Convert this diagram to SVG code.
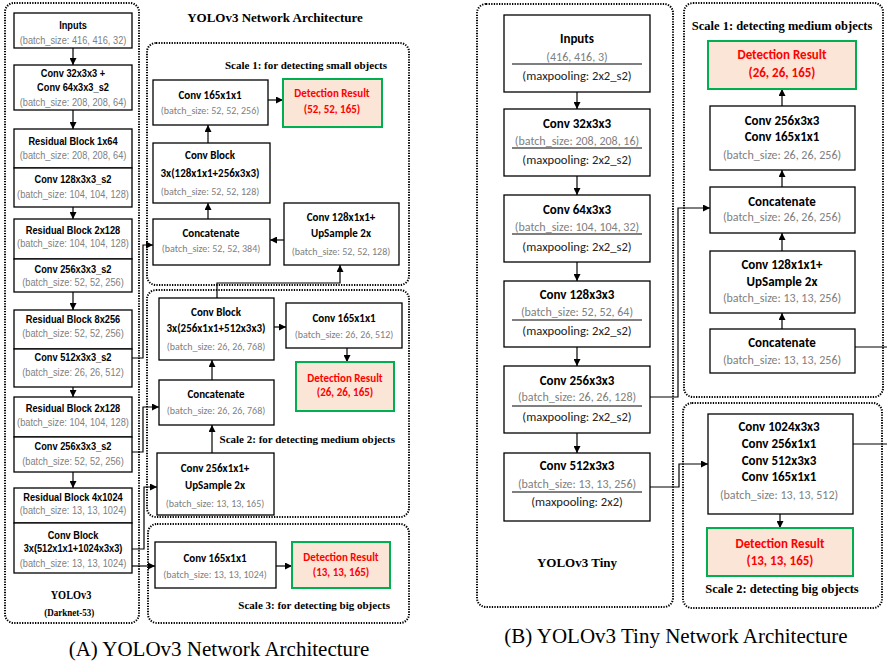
<svg xmlns="http://www.w3.org/2000/svg" width="887" height="663" viewBox="0 0 887 663">
<defs>
<marker id="ah" viewBox="0 0 8 8" refX="8" refY="4" markerWidth="7" markerHeight="7" orient="auto" markerUnits="userSpaceOnUse"><path d="M0,0 L8,4 L0,8 z" fill="#000"/></marker>
<style>
.box{fill:#fff;stroke:#000;stroke-width:1.3}
.det{fill:#fbe5d6;stroke:#00b050;stroke-width:2}
.dot{fill:none;stroke:#000;stroke-width:2;stroke-dasharray:1.3 1.3}
.cn{fill:none;stroke:#000;stroke-width:1.2;marker-end:url(#ah)}
.ln{fill:none;stroke:#000;stroke-width:1.2}
.nb{font-family:"Liberation Sans",Arial,sans-serif;font-size:11px;font-weight:bold;fill:#000;text-anchor:middle}
.ng{font-family:"Liberation Sans",Arial,sans-serif;font-size:11px;fill:#808080;text-anchor:middle}
.cb{font-family:Carlito,Lato,sans-serif;font-size:11px;font-weight:bold;fill:#000;text-anchor:middle}
.cg{font-family:Carlito,Lato,sans-serif;font-size:10px;fill:#808080;text-anchor:middle}
.cr{font-family:Carlito,Lato,sans-serif;font-size:11px;font-weight:bold;fill:#ff0000;text-anchor:middle}
.tb{font-family:Carlito,Lato,sans-serif;font-size:13px;font-weight:bold;fill:#000;text-anchor:middle}
.tg{font-family:Carlito,Lato,sans-serif;font-size:12px;fill:#808080;text-anchor:middle}
.tm{font-family:Carlito,Lato,sans-serif;font-size:12.6px;fill:#222;text-anchor:middle}
.tr{font-family:Carlito,Lato,sans-serif;font-size:13px;font-weight:bold;fill:#ff0000;text-anchor:middle}
.sb{font-family:"Liberation Serif",serif;font-weight:bold;fill:#000}
.cap{font-family:"Liberation Serif",serif;font-size:21px;fill:#000;text-anchor:middle}
</style>
</defs>
<rect width="887" height="663" fill="#fff"/>

<!-- Panel frames -->
<g id="frames">
<rect class="dot" x="5" y="3" width="134" height="620" rx="9"/>
<rect class="dot" x="147" y="43" width="262" height="242" rx="9"/>
<rect class="dot" x="147" y="290" width="262" height="227" rx="9"/>
<rect class="dot" x="148" y="524" width="261" height="99" rx="9"/>
<rect class="dot" x="477" y="4" width="196" height="603" rx="9"/>
<rect class="dot" x="684" y="3" width="199" height="394" rx="9"/>
<rect class="dot" x="683" y="403" width="199" height="205" rx="9"/>
</g>

<g id="labels">
<text class="sb" x="275" y="22" font-size="13" text-anchor="middle">YOLOv3 Network Architecture</text>
<text class="sb" x="387" y="69" font-size="11" text-anchor="end">Scale 1: for detecting small objects</text>
<text class="sb" x="395" y="443" font-size="11" text-anchor="end">Scale 2: for detecting medium objects</text>
<text class="sb" x="390" y="609" font-size="11" text-anchor="end">Scale 3: for detecting big objects</text>
<g transform="translate(71,0) scale(0.86,1)">
<text class="sb" x="0" y="599" font-size="12" text-anchor="middle">YOLOv3</text>
<text class="sb" x="-2" y="616" font-size="10.5" text-anchor="middle">(Darknet-53)</text>
</g>
<text class="sb" x="577" y="567" font-size="13" text-anchor="middle">YOLOv3 Tiny</text>
<text class="sb" x="782" y="30" font-size="12.5" text-anchor="middle">Scale 1: detecting medium objects</text>
<text class="sb" x="782" y="593" font-size="12.5" text-anchor="middle">Scale 2: detecting  big objects</text>
<text class="cap" x="219" y="656">(A) YOLOv3 Network Architecture</text>
<text class="cap" x="676" y="643" font-size="22">(B) YOLOv3 Tiny Network Architecture</text>
</g>

<!-- Connectors -->
<g id="connectors">
<path class="cn" d="M73,48 V65"/>
<path class="cn" d="M73,110 V129"/>
<path class="cn" d="M73,207 V219"/>
<path class="cn" d="M73,292 V310"/>
<path class="cn" d="M73,387 V397"/>
<path class="cn" d="M73,472 V488"/>
<path class="cn" d="M132,358 H143 V245 H153"/>
<path class="cn" d="M132,452 H143 V407 H159"/>
<path class="cn" d="M132,549 H144 V487 H157"/>
<path class="cn" d="M132,566 H155"/>
<path class="cn" d="M217,298 V283 H340 V265"/>
<path class="cn" d="M268,100 H283"/>
<path class="cn" d="M208,143 V125"/>
<path class="cn" d="M208,219 V203"/>
<path class="cn" d="M284,240 H270"/>
<path class="cn" d="M274,327 H286"/>
<path class="cn" d="M347,348 V362"/>
<path class="cn" d="M212,380 V360"/>
<path class="cn" d="M212,453 V425"/>
<path class="cn" d="M276,566 H292"/>
<path class="cn" d="M577,92 V109"/>
<path class="cn" d="M577,176 V195"/>
<path class="cn" d="M577,262 V281"/>
<path class="cn" d="M577,347 V366"/>
<path class="cn" d="M577,433 V453"/>
<path class="cn" d="M645,397 H678 V208 H710"/>
<path class="cn" d="M650,487 H679 V464 H708"/>
<path class="cn" d="M782,106 V89"/>
<path class="cn" d="M782,187 V170"/>
<path class="cn" d="M782,251 V233"/>
<path class="cn" d="M782,329 V313"/>
<path class="cn" d="M887,347 H819"/>
<path class="ln" d="M818,444 H887"/>
<path class="cn" d="M780,514 V528"/>
</g>

<!-- Backbone (A) -->
<g id="a-inputs"><rect class="box" x="14" y="13" width="118" height="35"/>
<g transform="translate(73,0) scale(0.84,1)"><text class="nb" x="0" y="29">Inputs</text><text class="ng" x="0" y="44">(batch_size: 416, 416, 32)</text></g></g>
<g id="a-conv32"><rect class="box" x="14" y="65" width="118" height="45"/>
<g transform="translate(73,0) scale(0.84,1)"><text class="nb" x="0" y="77">Conv 32x3x3 +</text><text class="nb" x="0" y="91">Conv 64x3x3_s2</text><text class="ng" x="0" y="106">(batch_size: 208, 208, 64)</text></g></g>
<g id="a-res1"><rect class="box" x="14" y="129" width="118" height="39"/>
<g transform="translate(73,0) scale(0.84,1)"><text class="nb" x="0" y="145">Residual Block 1x64</text><text class="ng" x="0" y="159">(batch_size: 208, 208, 64)</text></g></g>
<g id="a-conv128"><rect class="box" x="14" y="168" width="118" height="39"/>
<g transform="translate(73,0) scale(0.84,1)"><text class="nb" x="0" y="183">Conv 128x3x3_s2</text><text class="ng" x="0" y="198">(batch_size: 104, 104, 128)</text></g></g>
<g id="a-res2"><rect class="box" x="14" y="219" width="118" height="40"/>
<g transform="translate(73,0) scale(0.84,1)"><text class="nb" x="0" y="234">Residual Block 2x128</text><text class="ng" x="0" y="247">(batch_size: 104, 104, 128)</text></g></g>
<g id="a-conv256"><rect class="box" x="14" y="259" width="118" height="33"/>
<g transform="translate(73,0) scale(0.84,1)"><text class="nb" x="0" y="273">Conv 256x3x3_s2</text><text class="ng" x="0" y="286">(batch_size: 52, 52, 256)</text></g></g>
<g id="a-res8"><rect class="box" x="14" y="310" width="118" height="39"/>
<g transform="translate(73,0) scale(0.84,1)"><text class="nb" x="0" y="323">Residual Block 8x256</text><text class="ng" x="0" y="337">(batch_size: 52, 52, 256)</text></g></g>
<g id="a-conv512"><rect class="box" x="14" y="349" width="118" height="38"/>
<g transform="translate(73,0) scale(0.84,1)"><text class="nb" x="0" y="361">Conv 512x3x3_s2</text><text class="ng" x="0" y="376">(batch_size: 26, 26, 512)</text></g></g>
<g id="a-res2b"><rect class="box" x="14" y="397" width="118" height="40"/>
<g transform="translate(73,0) scale(0.84,1)"><text class="nb" x="0" y="412">Residual Block 2x128</text><text class="ng" x="0" y="426">(batch_size: 104, 104, 128)</text></g></g>
<g id="a-conv256b"><rect class="box" x="14" y="437" width="118" height="35"/>
<g transform="translate(73,0) scale(0.84,1)"><text class="nb" x="0" y="450">Conv 256x3x3_s2</text><text class="ng" x="0" y="465">(batch_size: 52, 52, 256)</text></g></g>
<g id="a-res4"><rect class="box" x="14" y="488" width="118" height="35"/>
<g transform="translate(73,0) scale(0.84,1)"><text class="nb" x="0" y="501">Residual Block 4x1024</text><text class="ng" x="0" y="514">(batch_size: 13, 13, 1024)</text></g></g>
<g id="a-convblock"><rect class="box" x="14" y="523" width="118" height="50"/>
<g transform="translate(73,0) scale(0.84,1)"><text class="nb" x="0" y="539">Conv Block</text><text class="nb" x="0" y="552">3x(512x1x1+1024x3x3)</text><text class="ng" x="0" y="567">(batch_size: 13, 13, 1024)</text></g></g>

<!-- Scale 1 (A) -->
<g id="s1-conv165"><rect class="box" x="153" y="80" width="115" height="45"/>
<text class="cb" x="210" y="99">Conv 165x1x1</text><text class="cg" x="210" y="114">(batch_size: 52, 52, 256)</text></g>
<g id="s1-det"><rect class="det" x="283" y="79" width="99" height="48"/>
<text class="cr" x="332" y="97">Detection Result</text><text class="cr" x="332" y="113">(52, 52, 165)</text></g>
<g id="s1-convblock"><rect class="box" x="153" y="143" width="117" height="60"/>
<text class="cb" x="210" y="159">Conv Block</text><text class="cb" x="210" y="177">3x(128x1x1+256x3x3)</text><text class="cg" x="210" y="195">(batch_size: 52, 52, 128)</text></g>
<g id="s1-concat"><rect class="box" x="153" y="219" width="117" height="46"/>
<text class="cb" x="211" y="237">Concatenate</text><text class="cg" x="211" y="252">(batch_size: 52, 52, 384)</text></g>
<g id="s1-up"><rect class="box" x="284" y="203" width="115" height="62"/>
<text class="cb" x="341" y="221">Conv 128x1x1+</text><text class="cb" x="341" y="237">UpSample 2x</text><text class="cg" x="341" y="255">(batch_size: 52, 52, 128)</text></g>

<!-- Scale 2 (A) -->
<g id="s2-convblock"><rect class="box" x="159" y="298" width="115" height="62"/>
<text class="cb" x="216" y="316">Conv Block</text><text class="cb" x="216" y="332">3x(256x1x1+512x3x3)</text><text class="cg" x="216" y="350">(batch_size: 26, 26, 768)</text></g>
<g id="s2-conv165"><rect class="box" x="286" y="303" width="116" height="45"/>
<text class="cb" x="344" y="322">Conv 165x1x1</text><text class="cg" x="344" y="338">(batch_size: 26, 26, 512)</text></g>
<g id="s2-det"><rect class="det" x="296" y="362" width="98" height="49"/>
<text class="cr" x="345" y="382">Detection Result</text><text class="cr" x="345" y="396">(26, 26, 165)</text></g>
<g id="s2-concat"><rect class="box" x="159" y="380" width="115" height="45"/>
<text class="cb" x="216" y="398">Concatenate</text><text class="cg" x="216" y="414">(batch_size: 26, 26, 768)</text></g>
<g id="s2-up"><rect class="box" x="157" y="453" width="117" height="62"/>
<text class="cb" x="215" y="472">Conv 256x1x1+</text><text class="cb" x="215" y="489">UpSample 2x</text><text class="cg" x="215" y="507">(batch_size: 13, 13, 165)</text></g>

<!-- Scale 3 (A) -->
<g id="s3-conv165"><rect class="box" x="155" y="542" width="121" height="46"/>
<text class="cb" x="215" y="562">Conv 165x1x1</text><text class="cg" x="215" y="578">(batch_size: 13, 13, 1024)</text></g>
<g id="s3-det"><rect class="det" x="292" y="542" width="98" height="46"/>
<text class="cr" x="341" y="561">Detection Result</text><text class="cr" x="341" y="576">(13, 13, 165)</text></g>

<!-- Tiny backbone (B) -->
<g id="b-inputs"><rect class="box" x="504" y="15" width="146" height="77"/>
<text class="tb" x="577" y="43">Inputs</text><text class="tg" x="577" y="61">(416, 416, 3)</text>
<line class="ln" x1="512" y1="64" x2="642" y2="64"/><text class="tm" x="577" y="80">(maxpooling:  2x2_s2)</text></g>
<g id="b-conv32"><rect class="box" x="504" y="109" width="146" height="67"/>
<text class="tb" x="577" y="128">Conv 32x3x3</text><text class="tg" x="577" y="145">(batch_size: 208, 208, 16)</text>
<line class="ln" x1="512" y1="148" x2="642" y2="148"/><text class="tm" x="577" y="164">(maxpooling:  2x2_s2)</text></g>
<g id="b-conv64"><rect class="box" x="504" y="195" width="146" height="67"/>
<text class="tb" x="577" y="214">Conv 64x3x3</text><text class="tg" x="577" y="231">(batch_size: 104, 104, 32)</text>
<line class="ln" x1="512" y1="234" x2="642" y2="234"/><text class="tm" x="577" y="251">(maxpooling:  2x2_s2)</text></g>
<g id="b-conv128"><rect class="box" x="504" y="281" width="146" height="66"/>
<text class="tb" x="577" y="299">Conv 128x3x3</text><text class="tg" x="577" y="316">(batch_size: 52, 52, 64)</text>
<line class="ln" x1="512" y1="320" x2="642" y2="320"/><text class="tm" x="577" y="335">(maxpooling:  2x2_s2)</text></g>
<g id="b-conv256"><rect class="box" x="504" y="366" width="146" height="67"/>
<text class="tb" x="577" y="385">Conv 256x3x3</text><text class="tg" x="577" y="401">(batch_size: 26, 26, 128)</text>
<line class="ln" x1="512" y1="406" x2="642" y2="406"/><text class="tm" x="577" y="421">(maxpooling:  2x2_s2)</text></g>
<g id="b-conv512"><rect class="box" x="504" y="453" width="146" height="68"/>
<text class="tb" x="577" y="470">Conv 512x3x3</text><text class="tg" x="577" y="488">(batch_size: 13, 13, 256)</text>
<line class="ln" x1="512" y1="492" x2="642" y2="492"/><text class="tm" x="577" y="506">(maxpooling:  2x2)</text></g>

<!-- Tiny scale 1 (B) -->
<g id="t1-det"><rect class="det" x="708" y="41" width="148" height="48"/>
<text class="tr" x="782" y="59">Detection Result</text><text class="tr" x="782" y="77">(26, 26, 165)</text></g>
<g id="t1-conv"><rect class="box" x="710" y="106" width="145" height="64"/>
<text class="tb" x="782" y="125">Conv 256x3x3</text><text class="tb" x="782" y="141">Conv 165x1x1</text><text class="tg" x="782" y="159">(batch_size: 26, 26, 256)</text></g>
<g id="t1-concat"><rect class="box" x="710" y="187" width="145" height="46"/>
<text class="tb" x="782" y="206">Concatenate</text><text class="tg" x="782" y="221">(batch_size: 26, 26, 256)</text></g>
<g id="t1-up"><rect class="box" x="710" y="251" width="145" height="62"/>
<text class="tb" x="782" y="269">Conv 128x1x1+</text><text class="tb" x="782" y="286">UpSample 2x</text><text class="tg" x="782" y="302">(batch_size: 13, 13, 256)</text></g>
<g id="t1-concat13"><rect class="box" x="710" y="329" width="145" height="44"/>
<text class="tb" x="782" y="347">Concatenate</text><text class="tg" x="782" y="364">(batch_size: 13, 13, 256)</text></g>

<!-- Tiny scale 2 (B) -->
<g id="t2-conv"><rect class="box" x="708" y="414" width="145" height="100"/>
<text class="tb" x="779" y="431">Conv 1024x3x3</text><text class="tb" x="779" y="448">Conv 256x1x1</text><text class="tb" x="779" y="465">Conv 512x3x3</text><text class="tb" x="779" y="481">Conv 165x1x1</text><text class="tg" x="779" y="499">(batch_size: 13, 13, 512)</text></g>
<g id="t2-det"><rect class="det" x="707" y="528" width="146" height="48"/>
<text class="tr" x="780" y="548">Detection Result</text><text class="tr" x="780" y="565">(13, 13, 165)</text></g>
</svg>
